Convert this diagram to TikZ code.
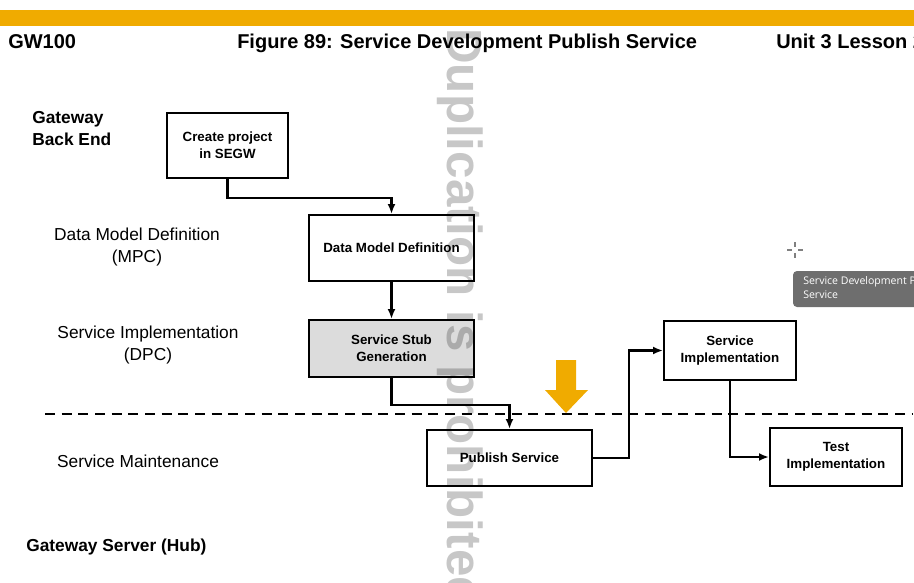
\documentclass[tikz,border=0pt]{standalone}
\usepackage{fontspec}
\setmainfont{Liberation Sans}
\newfontfamily\tipfont{Open Sans}
\usetikzlibrary{arrows.meta}
\definecolor{saporange}{HTML}{F0AB00}
\definecolor{stubgray}{HTML}{DCDCDC}
\definecolor{tipgray}{HTML}{6E6E6E}
\tikzset{
  stepbox/.style={draw, line width=1.5pt, fill=white, align=center, inner sep=0pt,
    font=\bfseries\fontsize{10}{12.75}\selectfont},
  flow/.style={line width=1.8pt, -{Latex[length=7.5pt,width=6pt]}},
  lane/.style={align=center, font=\fontsize{13}{16.5}\selectfont},
  side/.style={align=left, inner sep=0pt, font=\bfseries\fontsize{13}{16}\selectfont},
  head/.style={anchor=base west, inner sep=0pt, font=\bfseries\fontsize{15}{18}\selectfont}
}
\begin{document}
\begin{tikzpicture}[x=0.75pt,y=-0.75pt]
        \useasboundingbox (0,0) rectangle (914,582);
        \clip (0,0) rectangle (914,582);

        % header
        \fill[saporange] (0,10) rectangle (914,26);
        \node[head] (course) at (8,48) {GW100};
        \node[head] (title) at (237,48) {Figure 89: Service Development Publish Service};
        \node[head] (unit) at (776,48) {Unit 3 Lesson 2};

        % lanes
        \node[side, anchor=west] (backend) at (32,128.5) {Gateway\\Back End};
        \node[lane] (mpc) at (137,247) {Data Model Definition\\(MPC)};
        \node[lane] (dpc) at (148,345) {Service Implementation\\(DPC)};
        \node[lane] (maint) at (138,461) {Service Maintenance};
        \node[side, anchor=west] (hub) at (26,547) {Gateway Server (Hub)};

        \coordinate (cutL) at (45,414);
        \coordinate (cutR) at (912,414);
        \draw[line width=2pt, dash pattern=on 7.5pt off 5pt] (cutL) -- (cutR);

        % steps
        \node[stepbox, minimum width=90.75pt, minimum height=48.75pt] (create) at (227.5,145.5) {Create project\\in SEGW};
        \node[stepbox, minimum width=123.75pt, minimum height=49.5pt] (model) at (391.5,248) {Data Model Definition};
        \node[stepbox, minimum width=123.75pt, minimum height=42.75pt, fill=stubgray] (stub) at (391.5,348.5) {Service Stub\\Generation};
        \node[stepbox, minimum width=123.75pt, minimum height=42pt] (publish) at (509.5,458) {Publish Service};
        \node[stepbox, minimum width=99pt, minimum height=44.25pt] (impl) at (730,350.5) {Service\\Implementation};
        \node[stepbox, minimum width=99pt, minimum height=43.5pt] (test) at (836,457) {Test\\Implementation};

        \draw[flow] (create.south) -- ++(0,19) -| (model.north);
        \draw[flow] (model.south) -- (stub.north);
        \draw[flow] (stub.south) -- ++(0,27) -| (publish.north);
        \draw[flow] (publish.east) -- ++(36,0) |- (impl.west);
        \draw[flow] (impl.south) |- (test.west);

        % current step marker
        \fill[saporange] (556,360) -- (576,360) -- (576,390) -- (588,390)
            -- (566,413) -- (545,390) -- (556,390) -- cycle;

        % screen overlay
        \draw[gray, line width=0.8pt] (787,250) -- (792,250) (798,250) -- (803,250)
            (795,242) -- (795,247) (795,253) -- (795,258);
        \fill[tipgray, rounded corners=3pt] (793,271) rectangle (930,307);
        \node[anchor=north west, align=left, text=white, inner sep=0pt,
            font=\tipfont\fontsize{7.9}{10.5}\selectfont] (tip) at (803,276)
            {Service Development Publish\\Service};

        % watermark
        \node[anchor=base west, rotate=-90, inner sep=0pt, text=black, opacity=0.22,
            font=\bfseries\fontsize{37}{40}\selectfont] (mark) at (447,28)
            {Duplication is prohibited};
\end{tikzpicture}
\end{document}
